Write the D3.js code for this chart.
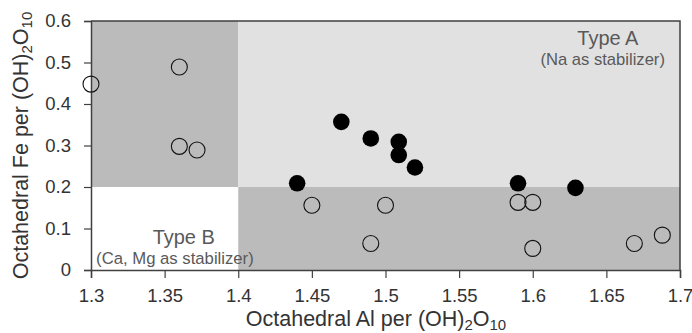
<!DOCTYPE html>
<html>
<head>
<meta charset="utf-8">
<script src="https://cdn.jsdelivr.net/npm/d3@7"></script>
<style>
  body { margin: 0; background: #fff; }
  text { font-family: "Liberation Sans", Arial, sans-serif; }
</style>
</head>
<body>
<svg id="chart"></svg>
<script>
'use strict'

// data
const openAl = [1.30, 1.36, 1.36, 1.372, 1.45, 1.50, 1.49, 1.59, 1.60, 1.60, 1.669, 1.688]
const openFe = [0.448, 0.489, 0.298, 0.289, 0.156, 0.156, 0.064, 0.163, 0.163, 0.052, 0.064, 0.084]
const filledAl = [1.47, 1.49, 1.509, 1.509, 1.52, 1.44, 1.59, 1.629]
const filledFe = [0.357, 0.317, 0.309, 0.277, 0.247, 0.209, 0.209, 0.198]
const xTicks = [1.3, 1.35, 1.4, 1.45, 1.5, 1.55, 1.6, 1.65, 1.7]
const yTicks = [0, 0.1, 0.2, 0.3, 0.4, 0.5, 0.6]
// field boundaries: Al = 1.4, Fe = 0.2
const alSplit = 1.4, feSplit = 0.2

const width = 692, height = 333
const margin = { top: 21, right: 12, bottom: 63, left: 91 }

const svg = d3.select("#chart").attr("width", width).attr("height", height)

const x = d3.scaleLinear().domain([1.3, 1.7]).range([margin.left, width - margin.right])
const y = d3.scaleLinear().domain([0, 0.6]).range([height - margin.bottom, margin.top])

// shaded fields
const fields = [
  { x0: 1.3, x1: alSplit, y0: feSplit, y1: 0.6, fill: "#bbbbbb" },
  { x0: alSplit, x1: 1.7, y0: feSplit, y1: 0.6, fill: "#e1e1e1" },
  { x0: 1.3, x1: alSplit, y0: 0, y1: feSplit, fill: "#ffffff" },
  { x0: alSplit, x1: 1.7, y0: 0, y1: feSplit, fill: "#bbbbbb" }
]
svg.append("g").selectAll("rect").data(fields).enter().append("rect")
  .attr("x", d => x(d.x0)).attr("y", d => y(d.y1))
  .attr("width", d => x(d.x1) - x(d.x0)).attr("height", d => y(d.y0) - y(d.y1))
  .attr("fill", d => d.fill)

// frame (top and right)
svg.append("path")
  .attr("d", `M${x(1.3)},${y(0.6)}H${x(1.7)}V${y(0)}`)
  .attr("fill", "none").attr("stroke", "#404040").attr("stroke-width", 1.5)

// field labels
const lab = svg.append("g").attr("fill", "#595959")
lab.append("text").attr("x", x(1.651)).attr("y", 45).attr("text-anchor", "middle")
  .attr("font-size", 20).text("Type A")
lab.append("text").attr("x", x(1.6475)).attr("y", 65).attr("text-anchor", "middle")
  .attr("font-size", 16.6).text("(Na as stabilizer)")
lab.append("text").attr("x", x(1.363)).attr("y", 244).attr("text-anchor", "middle")
  .attr("font-size", 20).text("Type B")
lab.append("text").attr("x", x(1.357)).attr("y", 264).attr("text-anchor", "middle")
  .attr("font-size", 16.7).text("(Ca, Mg as stabilizer)")

// axes
const xAxis = svg.append("g").attr("transform", `translate(0,${y(0)})`)
xAxis.call(d3.axisBottom(x).tickValues(d3.range(1.3, 1.7001, 0.025)).tickSize(5).tickFormat(""))
xAxis.call(d3.axisBottom(x).tickValues(xTicks).tickSize(8).tickPadding(11).tickFormat(d3.format("")))
const yAxis = svg.append("g").attr("transform", `translate(${x(1.3)},0)`)
yAxis.call(d3.axisLeft(y).tickValues(d3.range(0, 0.6001, 0.05)).tickSize(4).tickFormat(""))
yAxis.call(d3.axisLeft(y).tickValues(yTicks).tickSize(7).tickPadding(13).tickFormat(d3.format("")))

svg.selectAll(".domain").attr("stroke", "#404040").attr("stroke-width", 1.5)
svg.selectAll(".tick line").attr("stroke", "#404040").attr("stroke-width", 1.2)
svg.selectAll(".tick text").attr("font-size", 18.5).attr("fill", "#333")
  .style("font-family", "'Liberation Sans', Arial, sans-serif")

// points
const openPts = openAl.map((a, i) => [a, openFe[i]])
const filledPts = filledAl.map((a, i) => [a, filledFe[i]])
svg.append("g").selectAll("circle").data(openPts).enter().append("circle")
  .attr("cx", d => x(d[0])).attr("cy", d => y(d[1])).attr("r", 8)
  .attr("fill", "none").attr("stroke", "#111").attr("stroke-width", 1.1)
svg.append("g").selectAll("circle").data(filledPts).enter().append("circle")
  .attr("cx", d => x(d[0])).attr("cy", d => y(d[1])).attr("r", 8.3)
  .attr("fill", "#000")

// axis titles with subscripts
function title(sel, main) {
  sel.append("tspan").text(main + " per (OH)")
  sel.append("tspan").attr("font-size", 15).attr("dy", 3.5).text("2")
  sel.append("tspan").attr("dy", -3.5).text("O")
  sel.append("tspan").attr("font-size", 15).attr("dy", 3.5).text("10")
}
const xt = svg.append("text").attr("x", 376).attr("y", 326)
  .attr("text-anchor", "middle").attr("font-size", 21.5).attr("fill", "#333")
title(xt, "Octahedral Al")
const yt = svg.append("text").attr("transform", `translate(28,${(y(0) + y(0.6)) / 2}) rotate(-90)`)
  .attr("text-anchor", "middle").attr("font-size", 21.5).attr("fill", "#333")
title(yt, "Octahedral Fe")
</script>
</body>
</html>
